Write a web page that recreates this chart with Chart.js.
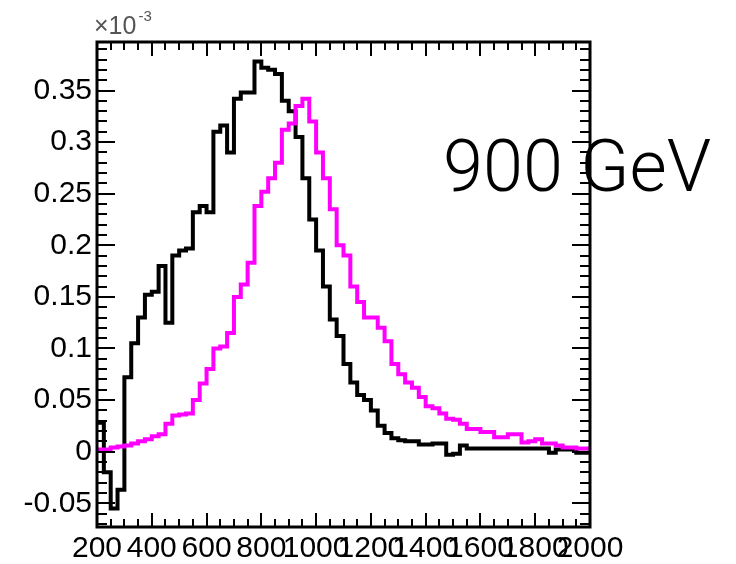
<!DOCTYPE html>
<html>
<head>
<meta charset="utf-8">
<script src="https://cdn.jsdelivr.net/npm/chart.js@4.4.1/dist/chart.umd.min.js"></script>
<style>
  html, body { margin: 0; padding: 0; background: #fff; }
  #wrap { width: 736px; height: 564px; }
</style>
</head>
<body>
<div id="wrap"><canvas id="c" width="736" height="564"></canvas></div>
<script>
// bin edges (GeV), 25 GeV bins from 200 to 2000
const binEdges = [200,225,250,275,300,325,350,375,400,425,450,475,500,525,550,575,600,625,650,675,
  700,725,750,775,800,825,850,875,900,925,950,975,1000,1025,1050,1075,1100,1125,1150,1175,
  1200,1225,1250,1275,1300,1325,1350,1375,1400,1425,1450,1475,1500,1525,1550,1575,1600,1625,1650,1675,
  1700,1725,1750,1775,1800,1825,1850,1875,1900,1925,1950,1975,2000];

// black histogram (units of 1e-3)
const blackValues = [0.028,-0.02,-0.055,-0.037,0.072,0.105,0.13,0.152,0.155,0.18,
  0.125,0.19,0.195,0.197,0.232,0.238,0.232,0.31,0.316,0.29,
  0.342,0.348,0.348,0.378,0.372,0.37,0.366,0.34,0.33,0.305,
  0.265,0.225,0.195,0.16,0.128,0.112,0.085,0.067,0.055,0.05,
  0.04,0.025,0.018,0.013,0.011,0.01,0.01,0.007,0.007,0.008,
  0.008,-0.003,-0.002,0.006,0.003,0.003,0.003,0.003,0.003,0.003,
  0.003,0.003,0.003,0.003,0.003,0.003,-0.001,0.002,0.002,0.002,
  -0.001,-0.001];

// magenta histogram (units of 1e-3)
const magentaValues = [0.002,0.002,0.004,0.005,0.006,0.008,0.010,0.012,0.015,0.017,
  0.027,0.035,0.036,0.037,0.05,0.066,0.08,0.1,0.102,0.115,
  0.15,0.162,0.183,0.238,0.252,0.265,0.28,0.312,0.318,0.335,
  0.342,0.32,0.29,0.265,0.235,0.2,0.19,0.16,0.145,0.13,
  0.13,0.12,0.107,0.085,0.075,0.067,0.062,0.053,0.044,0.042,
  0.037,0.032,0.031,0.027,0.022,0.022,0.019,0.019,0.014,0.014,
  0.017,0.017,0.009,0.01,0.012,0.008,0.008,0.006,0.004,0.004,
  0.003,0.003];

const xTicks = [200,400,600,800,1000,1200,1400,1600,1800,2000];
const xTickLabels = ['200','400','600','800','1000','1200','1400','1600','1800','2000'];
const yTicks = [-0.05,0,0.05,0.1,0.15,0.2,0.25,0.3,0.35];
const yTickLabels = ['-0.05','0','0.05','0.1','0.15','0.2','0.25','0.3','0.35'];
const annotationText = '900 GeV';
const exponentBase = '\u00D710';
const exponentPower = '-3';

function toSteps(values) {
  const pts = values.map((v, i) => ({ x: binEdges[i], y: v }));
  pts.push({ x: binEdges[values.length], y: values[values.length - 1] });
  return pts;
}

const FONT = '"Liberation Sans", Arial, Helvetica, sans-serif';

const decor = {
  id: 'decor',
  afterDraw(chart) {
    const { ctx, chartArea: a, scales: { x, y } } = chart;
    ctx.save();
    ctx.strokeStyle = '#000';
    ctx.lineCap = 'butt';
    // ticks
    ctx.lineWidth = 2;
    ctx.beginPath();
    for (let k = 4; k <= 40; k++) {
      const px = Math.round(x.getPixelForValue(k * 50));
      const len = (k % 4 === 0) ? 14 : 8;
      ctx.moveTo(px, a.bottom); ctx.lineTo(px, a.bottom - len);
      ctx.moveTo(px, a.top); ctx.lineTo(px, a.top + len);
    }
    for (let k = -7; k <= 39; k++) {
      const py = Math.round(y.getPixelForValue(k / 100));
      const len = (k % 5 === 0) ? 18 : 10;
      ctx.moveTo(a.left, py); ctx.lineTo(a.left + len, py);
      ctx.moveTo(a.right, py); ctx.lineTo(a.right - len, py);
    }
    ctx.stroke();
    // frame
    ctx.lineWidth = 3;
    ctx.strokeRect(a.left, a.top, a.right - a.left, a.bottom - a.top);
    // exponent label
    ctx.fillStyle = '#555';
    ctx.textBaseline = 'alphabetic';
    ctx.textAlign = 'left';
    ctx.font = '25px ' + FONT;
    ctx.fillText(exponentBase, a.left - 3, 34);
    const w = ctx.measureText(exponentBase).width;
    ctx.font = '15px ' + FONT;
    ctx.fillText(exponentPower, a.left - 3 + w + 2, 21);
    // big annotation
    ctx.fillStyle = '#000';
    ctx.font = '300 72px Roboto, "Liberation Sans", sans-serif';
    ctx.fillText(annotationText, 443, 191);
    ctx.restore();
  }
};

new Chart(document.getElementById('c'), {
  type: 'line',
  data: {
    datasets: [
      {
        label: 'magenta',
        data: toSteps(magentaValues),
        stepped: 'before',
        borderColor: '#ff00ff',
        borderWidth: 4,
        pointRadius: 0,
        fill: false,
        order: 0
      },
      {
        label: 'black',
        data: toSteps(blackValues),
        stepped: 'before',
        borderColor: '#000000',
        borderWidth: 4,
        pointRadius: 0,
        fill: false,
        order: 1
      }
    ]
  },
  options: {
    responsive: false,
    animation: false,
    devicePixelRatio: 1,
    layout: { padding: { left: 0, right: 146, top: 42, bottom: 0 } },
    plugins: { legend: { display: false }, tooltip: { enabled: false } },
    scales: {
      x: {
        type: 'linear',
        min: 200, max: 2000,
        grid: { display: false, drawTicks: false },
        border: { display: false },
        afterBuildTicks: s => { s.ticks = xTicks.map(v => ({ value: v })); },
        afterFit: s => { s.height = 37; },
        ticks: {
          autoSkip: false, maxRotation: 0, minRotation: 0,
          padding: 4,
          color: '#000',
          font: { family: FONT, size: 30 },
          callback: (v, i) => xTickLabels[i]
        }
      },
      y: {
        type: 'linear',
        min: -0.073, max: 0.397,
        grid: { display: false, drawTicks: false },
        border: { display: false },
        afterBuildTicks: s => { s.ticks = yTicks.map(v => ({ value: v })); },
        afterFit: s => { s.width = 97; },
        ticks: {
          autoSkip: false,
          padding: 5,
          color: '#000',
          font: { family: FONT, size: 30 },
          callback: (v, i) => yTickLabels[i]
        }
      }
    }
  },
  plugins: [decor]
});
</script>
</body>
</html>
